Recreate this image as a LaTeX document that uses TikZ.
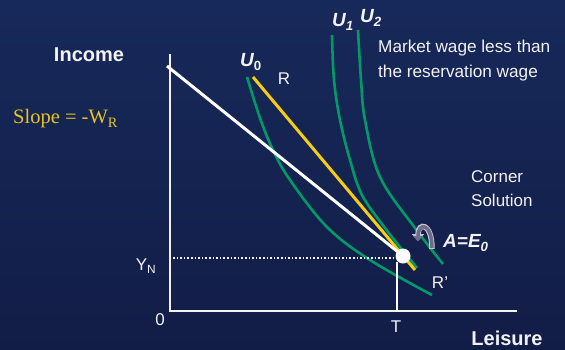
\documentclass[tikz,border=0pt]{standalone}
\usepackage{fontspec}
\setmainfont{Liberation Sans}
\newfontfamily\serifslope{Liberation Serif}
\usepackage{xcolor}
\usetikzlibrary{arrows.meta,positioning,calc}
\definecolor{BgTop}{HTML}{17295A}
\definecolor{BgMid}{HTML}{1F3B76}
\definecolor{BgBot}{HTML}{121D47}
\definecolor{CurveGreen}{HTML}{009A68}
\definecolor{BudgetYellow}{HTML}{F7CD10}
\definecolor{SlopeYellow}{HTML}{E9C325}
\definecolor{TextWhite}{HTML}{F2F2F2}
\definecolor{IconGray}{HTML}{6E6D87}
\definecolor{IconEdge}{HTML}{C4C4D4}

\begin{document}
\begin{tikzpicture}[
  x=1pt,y=-1pt,
  lbl/.style={text=TextWhite,inner sep=0pt,font=\fontsize{17}{20}\selectfont},
  bigb/.style={text=TextWhite,inner sep=0pt,font=\fontsize{20}{24}\selectfont\bfseries},
  ulbl/.style={text=TextWhite,inner sep=0pt,font=\fontsize{19}{22}\selectfont\bfseries\itshape},
  axis/.style={TextWhite,line width=1.2pt},
  indiff/.style={CurveGreen,line width=2.6pt},
  budget/.style={line width=3pt}
]
\useasboundingbox (0,0) rectangle (565,349);
\shade[top color=BgTop,middle color=BgMid,bottom color=BgBot] (0,0) rectangle (565,349);

% axes
\coordinate (orig) at (170,311);
\coordinate (ytop) at (170,54);
\coordinate (xend) at (517,311);
\draw[axis] (ytop) -- (orig) -- (xend);

% indifference curves
\draw[indiff] plot[smooth,tension=0.6] coordinates
  {(247,77) (260,118) (273,150) (290,180) (327,227) (370,260) (432,295)};
\draw[indiff] plot[smooth,tension=0.6] coordinates
  {(332,35) (334,80) (340,120) (350,160) (362,195) (385,228) (417,268)};
\draw[indiff] plot[smooth,tension=0.6] coordinates
  {(358,30) (361,80) (365,120) (380,177) (415,228) (443,264)};

% budget lines
\coordinate (wtop) at (167,66);
\coordinate (A) at (403,256);
\coordinate (rtop) at (253,77);
\coordinate (rbot) at (415,270);
\draw[budget,BudgetYellow] (rtop) -- (rbot);
\draw[budget,white] (wtop) -- (A);

% non-labor income and endowment
\coordinate (yn) at (173,258);
\coordinate (ynend) at (397,258);
\draw[TextWhite,line width=1.6pt,dotted] (yn) -- (ynend);
\coordinate (tpt) at (397,311);
\coordinate (ttop) at (397,262);
\draw[white,line width=2.6pt] (tpt) -- (ttop);
\fill[white] (A) circle (7.5);

% curved arrow icon
\draw[IconEdge,line width=5.5pt,-{Triangle[length=7pt,width=12pt]}]
  (432,249) .. controls (432,222) and (418,222) .. (418,241);
\draw[IconGray,line width=3.5pt,-{Triangle[length=5.5pt,width=9.5pt]}]
  (432,248) .. controls (432,222) and (418,222) .. (418,241.5);

% labels
\node[bigb] (income) at (89,55) {Income};
\node[bigb] (leisure) at (507,338) {Leisure};
\node[anchor=west,inner sep=0pt,text=SlopeYellow,font=\serifslope\fontsize{20.5}{24}\selectfont]
  (slope) at (13,119) {Slope = -W\textsubscript{R}};
\node[ulbl] (u0) at (251,62) {U\textsubscript{\upshape0}};
\node[ulbl] (u1) at (343,22) {U\textsubscript{1}};
\node[ulbl] (u2) at (371,18) {U\textsubscript{2}};
\node[lbl] (r) at (284,79) {R};
\node[lbl] (rp) at (440,283) {R'};
\node[lbl,anchor=west,align=left,font=\fontsize{17.2}{25}\selectfont]
  (market) at (378,61) {Market wage less than\\the reservation wage};
\node[lbl,anchor=west,align=left,font=\fontsize{17}{24}\selectfont]
  (corner) at (471,189) {Corner\\Solution};
\node[ulbl,anchor=west] (ae) at (443,243) {A=E\textsubscript{0}};
\node[lbl] (tlbl) at (396,327) {T};
\node[lbl] (zero) at (160,320) {0};
\node[lbl] (ynlbl) at (146,266) {Y\textsubscript{N}};
\end{tikzpicture}
\end{document}
